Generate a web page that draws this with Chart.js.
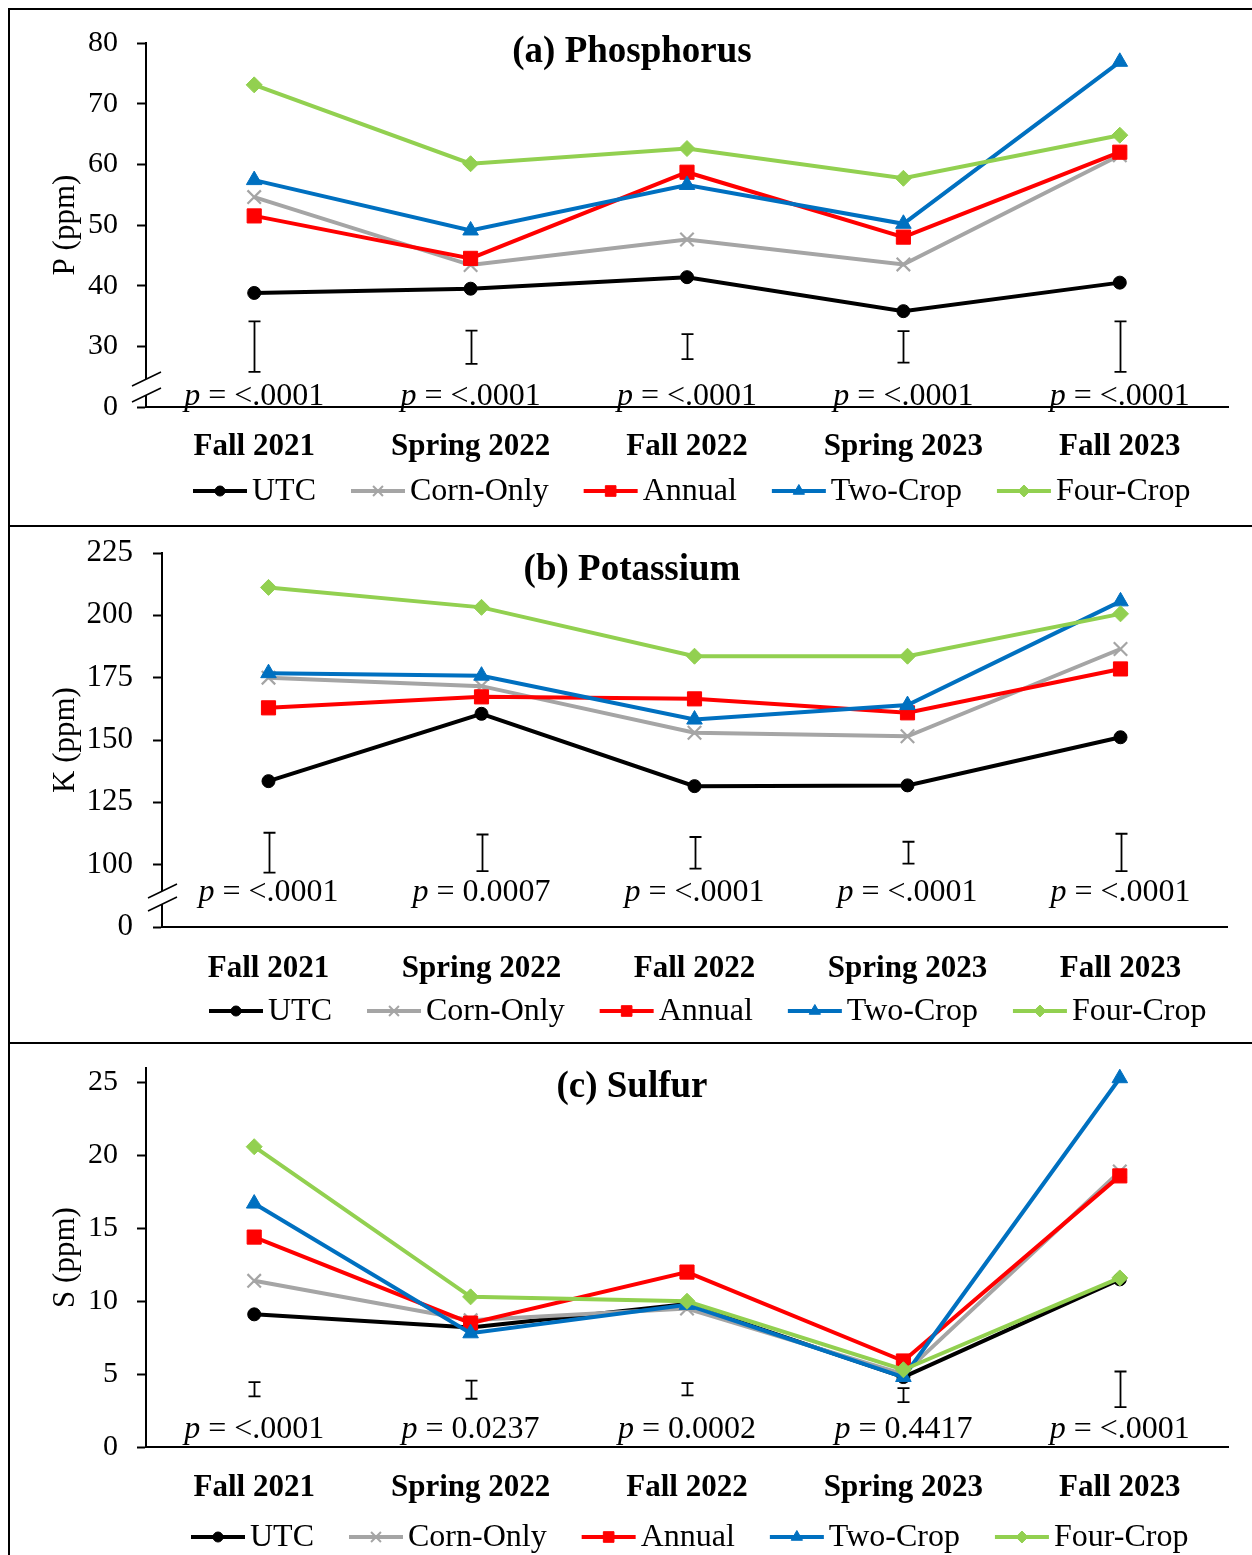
<!DOCTYPE html>
<html>
<head>
<meta charset="utf-8">
<title>P, K and S by season</title>
<script src="https://cdn.jsdelivr.net/npm/chart.js@4.4.0/dist/chart.umd.min.js"></script>
<style>
  body { margin: 0; background: #fff; width: 1252px; height: 1555px; position: relative; overflow: hidden; }
  canvas { position: absolute; left: 0; display: block; }
  .frame { position: absolute; left: 8px; top: 8px; width: 1300px; height: 1600px; border-left: 2px solid #000; border-top: 2px solid #000; }
  .divider { position: absolute; left: 8px; width: 1300px; height: 2px; background: #000; }
</style>
</head>
<body>
<canvas id="chartP" width="1252" height="527" style="top:0px"></canvas>
<canvas id="chartK" width="1252" height="516" style="top:527px"></canvas>
<canvas id="chartS" width="1252" height="512" style="top:1043px"></canvas>
<div class="frame"></div>
<div class="divider" style="top:525px"></div>
<div class="divider" style="top:1042px"></div>

<script>
// sampling dates and treatments
const seasons = ['Fall 2021', 'Spring 2022', 'Fall 2022', 'Spring 2023', 'Fall 2023'];
const treatments = ['UTC', 'Corn-Only', 'Annual', 'Two-Crop', 'Four-Crop'];

// (a) phosphorus, ppm
const pUTC      = [38.8, 39.5, 41.4, 35.8, 40.5];
const pCornOnly = [54.6, 43.4, 47.6, 43.5, 61.5];
const pAnnual   = [51.5, 44.5, 58.7, 48.0, 62.0];
const pTwoCrop  = [57.4, 49.1, 56.6, 50.2, 76.9];
const pFourCrop = [73.1, 60.1, 62.6, 57.7, 64.8];
const pErrLow   = [25.8, 27.1, 27.9, 27.3, 25.8];   // LSD bar ends, drawn in the broken part of the axis
const pErrHigh  = [34.1, 32.6, 32.0, 32.5, 34.1];
const pPvals    = ['<.0001', '<.0001', '<.0001', '<.0001', '<.0001'];
const pTicks      = [20, 30, 40, 50, 60, 70, 80];
const pTickLabels = ['0', '30', '40', '50', '60', '70', '80'];

// (b) potassium, ppm
const kUTC      = [133.5, 160.5, 131.5, 131.8, 151.1];
const kCornOnly = [175.0, 171.6, 152.9, 151.5, 186.5];
const kAnnual   = [162.9, 167.3, 166.5, 160.9, 178.5];
const kTwoCrop  = [176.8, 175.8, 158.2, 164.0, 205.6];
const kFourCrop = [211.2, 203.2, 183.6, 183.6, 200.6];
const kErrLow   = [96.8, 97.4, 98.4, 100.4, 97.4];
const kErrHigh  = [112.8, 112.1, 111.1, 109.2, 112.4];
const kPvals    = ['<.0001', '0.0007', '<.0001', '<.0001', '<.0001'];
const kTicks      = [75, 100, 125, 150, 175, 200, 225];
const kTickLabels = ['0', '100', '125', '150', '175', '200', '225'];

// (c) sulfur, ppm
const sUTC      = [9.1, 8.2, 9.8, 4.8, 11.5];
const sCornOnly = [11.4, 8.7, 9.5, 5.0, 18.9];
const sAnnual   = [14.4, 8.5, 12.0, 5.9, 18.6];
const sTwoCrop  = [16.7, 7.8, 9.75, 4.8, 25.3];
const sFourCrop = [20.6, 10.3, 10.0, 5.3, 11.6];
const sErrLow   = [3.47, 3.31, 3.54, 3.08, 2.74];
const sErrHigh  = [4.45, 4.56, 4.38, 4.04, 5.18];
const sPvals    = ['<.0001', '0.0237', '0.0002', '0.4417', '<.0001'];
const sTicks      = [0, 5, 10, 15, 20, 25];
const sTickLabels = ['0', '5', '10', '15', '20', '25'];

// look of each treatment
const colors  = ['#000000', '#A5A5A5', '#FF0000', '#0070C0', '#92D050'];
const markers = ['circle', 'crossRot', 'rect', 'triangle', 'rectRot'];
const markerSize = [6.5, 9.5, 10, 9, 8];
const legendMarkerSize = [5, 7, 7.5, 6.5, 6];

const FONT = '"Liberation Serif", "Times New Roman", serif';
Chart.defaults.font.family = FONT;
Chart.defaults.color = '#000';

const panels = [
  { id: 'chartP', title: '(a) Phosphorus', yTitle: 'P (ppm)',
    series: [pUTC, pCornOnly, pAnnual, pTwoCrop, pFourCrop],
    errLow: pErrLow, errHigh: pErrHigh, pvals: pPvals,
    ticks: pTicks, tickLabels: pTickLabels, min: 20, max: 80,
    box: { h: 527, top: 43, bottom: 407, left: 146, right: 1228, tickPad: 19, tickFont: 30,
           titleY: 62, pBase: 2, xPad: 21, legendX: 193, legendY: 491, brk: [28, 12] } },
  { id: 'chartK', title: '(b) Potassium', yTitle: 'K (ppm)',
    series: [kUTC, kCornOnly, kAnnual, kTwoCrop, kFourCrop],
    errLow: kErrLow, errHigh: kErrHigh, pvals: kPvals,
    ticks: kTicks, tickLabels: kTickLabels, min: 75, max: 225,
    box: { h: 516, top: 26, bottom: 400, left: 162, right: 1227, tickPad: 20, tickFont: 31,
           titleY: 53, pBase: 26, xPad: 23, legendX: 209, legendY: 484, brk: [36, 23] } },
  { id: 'chartS', title: '(c) Sulfur', yTitle: 'S (ppm)',
    series: [sUTC, sCornOnly, sAnnual, sTwoCrop, sFourCrop],
    errLow: sErrLow, errHigh: sErrHigh, pvals: sPvals,
    ticks: sTicks, tickLabels: sTickLabels, min: 0, max: 26,
    box: { h: 512, top: 25, bottom: 404, left: 146, right: 1228, tickPad: 19, tickFont: 30,
           titleY: 54, pBase: 9, xPad: 22, legendX: 191, legendY: 494, brk: null } }
];

// error bars, p values, title, axis break and legend
function makeDecorations(p) {
  const b = p.box;
  return {
    id: 'decorations',
    afterDatasetsDraw(chart) {
      const ctx = chart.ctx;
      const xs = chart.scales.x, ys = chart.scales.y;
      ctx.save();
      ctx.strokeStyle = '#000';
      ctx.lineWidth = 1.8;
      p.errLow.forEach((lo, i) => {
        const x = Math.round(xs.getPixelForValue(i)) + 0.5;
        const y1 = ys.getPixelForValue(lo), y2 = ys.getPixelForValue(p.errHigh[i]);
        ctx.beginPath();
        ctx.moveTo(x, y1); ctx.lineTo(x, y2);
        ctx.moveTo(x - 6, y1); ctx.lineTo(x + 6, y1);
        ctx.moveTo(x - 6, y2); ctx.lineTo(x + 6, y2);
        ctx.stroke();
      });
      ctx.restore();
    },
    afterDraw(chart) {
      const ctx = chart.ctx;
      const area = chart.chartArea;
      const xs = chart.scales.x;
      ctx.save();

      // p values above the x axis
      ctx.fillStyle = '#000';
      ctx.textBaseline = 'alphabetic';
      ctx.textAlign = 'left';
      p.pvals.forEach((v, i) => {
        const cx = xs.getPixelForValue(i);
        const rest = ' = ' + v;
        ctx.font = 'italic 32px ' + FONT;
        const wp = ctx.measureText('p').width;
        ctx.font = '32px ' + FONT;
        const wr = ctx.measureText(rest).width;
        const x0 = cx - (wp + wr) / 2;
        ctx.font = 'italic 32px ' + FONT;
        ctx.fillText('p', x0, area.bottom - b.pBase);
        ctx.font = '32px ' + FONT;
        ctx.fillText(rest, x0 + wp, area.bottom - b.pBase);
      });

      // panel title
      ctx.font = 'bold 37px ' + FONT;
      ctx.textAlign = 'center';
      ctx.fillText(p.title, 632, b.titleY);

      // axis break marks
      if (b.brk) {
        const ax = area.left;
        const yU = area.bottom - b.brk[0], yL = area.bottom - b.brk[1];
        ctx.fillStyle = '#fff';
        ctx.beginPath();
        ctx.moveTo(ax - 14, yU + 7); ctx.lineTo(ax + 15, yU - 7);
        ctx.lineTo(ax + 15, yL - 7); ctx.lineTo(ax - 14, yL + 7);
        ctx.closePath();
        ctx.fill();
        ctx.strokeStyle = '#000';
        ctx.lineWidth = 1.5;
        ctx.beginPath();
        ctx.moveTo(ax - 14, yU + 7); ctx.lineTo(ax + 15, yU - 7);
        ctx.moveTo(ax - 14, yL + 7); ctx.lineTo(ax + 15, yL - 7);
        ctx.stroke();
      }

      // legend: line sample with marker, then name
      let x = b.legendX;
      const y = b.legendY;
      ctx.textAlign = 'left';
      ctx.textBaseline = 'middle';
      treatments.forEach((name, i) => {
        ctx.strokeStyle = colors[i];
        ctx.lineWidth = 4;
        ctx.beginPath(); ctx.moveTo(x, y); ctx.lineTo(x + 54, y); ctx.stroke();
        ctx.fillStyle = colors[i];
        ctx.lineWidth = markers[i] === 'crossRot' ? 2 : 1;
        Chart.helpers.drawPoint(ctx, { pointStyle: markers[i], radius: legendMarkerSize[i], rotation: 0,
          borderWidth: ctx.lineWidth }, x + 27, y);
        ctx.fillStyle = '#000';
        ctx.font = '32px ' + FONT;
        ctx.fillText(name, x + 59, y + 1);
        x += 59 + ctx.measureText(name).width + 35;
      });
      ctx.restore();
    }
  };
}

function buildChart(p) {
  const b = p.box;
  const datasets = treatments.map((name, i) => ({
    label: name,
    data: p.series[i],
    borderColor: colors[i],
    backgroundColor: colors[i],
    borderWidth: 4,
    pointStyle: markers[i],
    pointRadius: markerSize[i],
    pointHoverRadius: markerSize[i],
    pointBorderWidth: markers[i] === 'crossRot' ? 2.2 : 1,
    tension: 0,
    order: treatments.length - i   // later series on top, like the original
  }));

  return new Chart(document.getElementById(p.id).getContext('2d'), {
    type: 'line',
    data: { labels: seasons, datasets: datasets },
    options: {
      responsive: false,
      animation: false,
      events: [],
      layout: { padding: { left: 0, top: b.top, right: 1252 - b.right, bottom: b.h - b.bottom - 60 } },
      plugins: { legend: { display: false }, title: { display: false }, tooltip: { enabled: false } },
      scales: {
        x: {
          type: 'category',
          offset: true,
          grid: { display: true, drawOnChartArea: false, drawTicks: false },
          border: { display: true, color: '#000', width: 2 },
          ticks: { color: '#000', font: { size: 31, weight: 'bold' }, padding: b.xPad, maxRotation: 0, autoSkip: false },
          afterFit: (s) => { s.height = 60; s.paddingLeft = 0; s.paddingRight = 0; }
        },
        y: {
          min: p.min,
          max: p.max,
          afterBuildTicks: (s) => { s.ticks = p.ticks.map(v => ({ value: v })); },
          grid: { drawOnChartArea: false, drawTicks: true, tickLength: 9, tickWidth: 2, color: '#000' },
          border: { display: true, color: '#000', width: 2 },
          ticks: {
            color: '#000',
            font: { size: b.tickFont },
            padding: b.tickPad,
            callback: (v) => p.tickLabels[p.ticks.indexOf(v)]
          },
          title: { display: true, text: p.yTitle, color: '#000', font: { size: 31 }, padding: { top: 47, bottom: 0 } },
          // keep the plot box where the original has it
          afterFit: (s) => { s.width = b.left; s.paddingTop = 0; s.paddingBottom = 0; }
        }
      }
    },
    plugins: [makeDecorations(p)]
  });
}

panels.forEach(buildChart);
</script>
</body>
</html>
